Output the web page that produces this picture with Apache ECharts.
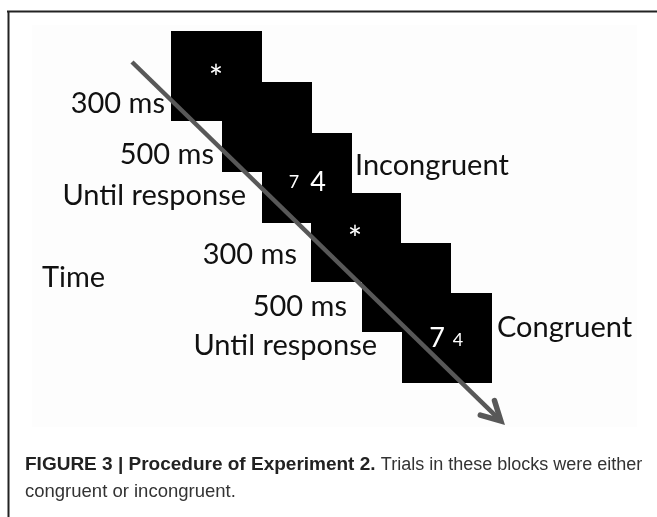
<!DOCTYPE html>
<html>
<head>
<meta charset="utf-8">
<title>Procedure of Experiment 2</title>
<script src="https://cdn.jsdelivr.net/npm/echarts@6/dist/echarts.min.js"></script>
<style>
  html, body { margin: 0; padding: 0; background: #fff; }
  #chart { width: 657px; height: 517px; }
</style>
</head>
<body>
<div id="chart"></div>
<script>
// panel units follow the picture: x to the right, y downwards
const squareLeft = [171, 222, 262, 311, 362, 402];
const squareTop = [31, 82, 133, 193, 243, 293];
const squareRight = [262, 312, 352, 401, 451, 492];
const squareBottom = [121, 172, 223, 282, 332, 383];

// what is shown inside the screens (digit size is part of the manipulation)
const stimText = ['*', '7', '4', '*', '7', '4'];
const stimKind = ['fix', 'small', 'big', 'fix', 'big', 'small'];
const stimX = [216, 294, 318, 355, 437, 458];
const stimY = [72, 182, 182, 233, 338, 340];

const durationText = ['300 ms', '500 ms', 'Until response', '300 ms', '500 ms', 'Until response'];
const durationEndX = [165, 214, 246, 297, 347, 377];
const durationY = [104, 155, 196, 255, 307, 346];

const conditionText = ['Time', 'Incongruent', 'Congruent'];
const conditionX = [42, 355, 497];
const conditionY = [278, 166, 328];

const arrowFrom = [132, 62];
const arrowTo = [503, 423];

const LABEL_FONT = 'Lato, "Open Sans", sans-serif';
const CAPTION_FONT = '"Liberation Sans Narrow", "Liberation Sans", Arial, sans-serif';
const stimFontSize = { fix: 34, small: 18, big: 27 };

const chart = echarts.init(document.getElementById('chart'));

function textItem(align, size) {
  return function (params, api) {
    const p = api.coord([api.value(0), api.value(1)]);
    return {
      type: 'text',
      x: p[0],
      y: p[1],
      style: {
        text: api.value(2),
        fill: '#111',
        fontFamily: LABEL_FONT,
        fontSize: size,
        align: align,
        verticalAlign: 'middle'
      }
    };
  };
}

chart.setOption({
  animation: false,
  grid: { left: 0, right: 0, top: 0, bottom: 0 },
  xAxis: { type: 'value', min: 0, max: 657, show: false },
  yAxis: { type: 'value', min: 0, max: 517, inverse: true, show: false },
  graphic: [
    { type: 'rect', z: 0, shape: { x: 32, y: 25, width: 605, height: 402 }, style: { fill: '#fdfdfd' } },
    { type: 'line', z: 0, shape: { x1: 7, y1: 11.5, x2: 657, y2: 11.5 }, style: { stroke: '#222', lineWidth: 2 } },
    { type: 'line', z: 0, shape: { x1: 8.5, y1: 11, x2: 8.5, y2: 517 }, style: { stroke: '#222', lineWidth: 2 } },
    {
      type: 'text', z: 5, x: 25, y: 465,
      style: {
        text: '{b|FIGURE 3 | Procedure of Experiment 2.} {r|Trials in these blocks were either}',
        fill: '#333',
        fontFamily: CAPTION_FONT,
        fontSize: 19,
        verticalAlign: 'middle',
        rich: {
          b: { fontWeight: 'bold', fill: '#222', fontSize: 19, fontFamily: CAPTION_FONT },
          r: { fill: '#333', fontSize: 18, fontFamily: CAPTION_FONT }
        }
      }
    },
    {
      type: 'text', z: 5, x: 25, y: 492,
      style: {
        text: 'congruent or incongruent.',
        fill: '#333',
        fontFamily: CAPTION_FONT,
        fontSize: 18.5,
        verticalAlign: 'middle'
      }
    }
  ],
  series: [
    {
      name: 'screens',
      type: 'custom',
      silent: true,
      z: 2,
      data: squareLeft.map((x, i) => [x, squareTop[i], squareRight[i], squareBottom[i]]),
      renderItem: (params, api) => {
        const a = api.coord([api.value(0), api.value(1)]);
        const b = api.coord([api.value(2), api.value(3)]);
        return {
          type: 'rect',
          shape: { x: a[0], y: a[1], width: b[0] - a[0], height: b[1] - a[1] },
          style: { fill: '#000' }
        };
      }
    },
    {
      name: 'arrow',
      type: 'custom',
      silent: true,
      z: 3,
      data: [[arrowFrom[0], arrowFrom[1], arrowTo[0], arrowTo[1]]],
      renderItem: (params, api) => {
        const s = api.coord([api.value(0), api.value(1)]);
        const e = api.coord([api.value(2), api.value(3)]);
        const len = Math.hypot(e[0] - s[0], e[1] - s[1]);
        const ux = (e[0] - s[0]) / len, uy = (e[1] - s[1]) / len;
        const head = 24, ang = 25 * Math.PI / 180;
        const barb = (sign) => {
          const c = Math.cos(sign * ang), sn = Math.sin(sign * ang);
          const bx = -ux * c + uy * sn, by = -ux * sn - uy * c;
          return [e[0] + bx * head, e[1] + by * head];
        };
        return {
          type: 'group',
          children: [
            {
              type: 'line',
              shape: { x1: s[0], y1: s[1], x2: e[0] - ux * 3, y2: e[1] - uy * 3 },
              style: { stroke: '#585858', lineWidth: 4.5 }
            },
            {
              type: 'polyline',
              shape: { points: [barb(1), [e[0] - ux * 3, e[1] - uy * 3], barb(-1)] },
              style: { stroke: '#585858', lineWidth: 5.5, fill: null, lineJoin: 'miter', lineCap: 'round' }
            }
          ]
        };
      }
    },
    {
      name: 'stimuli',
      type: 'custom',
      silent: true,
      z: 4,
      data: stimText.map((t, i) => [stimX[i], stimY[i], t, stimKind[i]]),
      renderItem: (params, api) => {
        const p = api.coord([api.value(0), api.value(1)]);
        const kind = api.value(3);
        return {
          type: 'text',
          x: p[0],
          y: kind === 'fix' ? p[1] + 7 : p[1],
          style: {
            text: api.value(2),
            fill: '#fff',
            fontFamily: LABEL_FONT,
            fontSize: stimFontSize[kind],
            align: 'center',
            verticalAlign: 'middle'
          }
        };
      }
    },
    {
      name: 'durations',
      type: 'custom',
      silent: true,
      z: 4,
      data: durationText.map((t, i) => [durationEndX[i], durationY[i], t]),
      renderItem: textItem('right', 29)
    },
    {
      name: 'conditions',
      type: 'custom',
      silent: true,
      z: 4,
      data: conditionText.map((t, i) => [conditionX[i], conditionY[i], t]),
      renderItem: textItem('left', 29)
    }
  ]
});
</script>
</body>
</html>
